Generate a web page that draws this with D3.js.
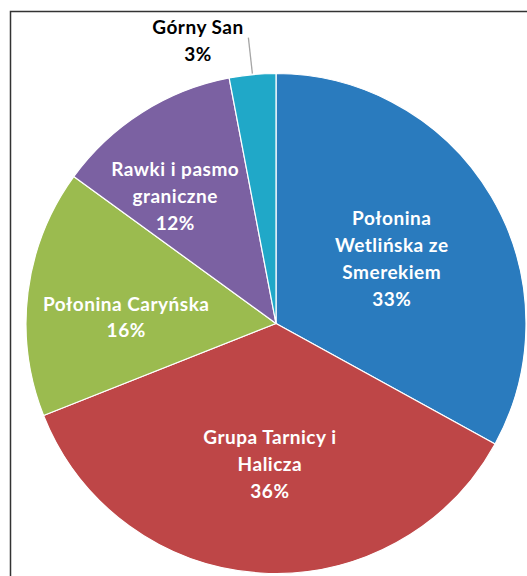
<!DOCTYPE html>
<html><head><meta charset="utf-8">
<script src="https://cdn.jsdelivr.net/npm/d3@7"></script>
<style>
html,body{margin:0;padding:0;background:#fff;}
svg{display:block;}
</style></head>
<body>
<script>
// ---- data ----
const categories = [
  ["Połonina", "Wetlińska ze", "Smerekiem"],
  ["Grupa Tarnicy i", "Halicza"],
  ["Połonina Caryńska"],
  ["Rawki i pasmo", "graniczne"],
  ["Górny San"]
];
const values = [33, 36, 16, 12, 3];
const percentLabels = ["33%", "36%", "16%", "12%", "3%"];
const colors = ["#2A7BBE", "#BE4647", "#9BBB4F", "#7B61A2", "#20A8C8"];

// ---- layout ----
const W = 527, H = 576;
const cx = 276, cy = 323.5, R = 250;
// label placement in polar terms (degrees clockwise from top, radius in px)
const labelPolar = [
  {a: 60.5, r: 133, color: "#fff"},
  {a: 182.5, r: 140, color: "#fff"},
  {a: 272.7, r: 150, color: "#fff"},
  {a: 321.8, r: 163, color: "#fff"},
  {a: 345.5, r: 290, color: "#000", outside: true}
];
const lineH = 26.7;

const svg = d3.select("body").append("svg").attr("width", W).attr("height", H);

// frame
svg.append("path")
  .attr("d", `M10.5,${H} L10.5,11.5 L${W},11.5`)
  .attr("fill", "none").attr("stroke", "#333").attr("stroke-width", 1.5);

const pie = d3.pie().sort(null).value(d => d);
const arcs = pie(values);
const arc = d3.arc().innerRadius(0).outerRadius(R);

const g = svg.append("g").attr("transform", `translate(${cx},${cy})`);
g.selectAll("path.slice").data(arcs).enter().append("path")
  .attr("class", "slice")
  .attr("d", arc)
  .attr("fill", (d, i) => colors[i])
  .attr("stroke", "#fff").attr("stroke-width", 1.2).attr("stroke-linejoin", "round");

// leader line for small slice
{
  const d = arcs[4];
  const mid = (d.startAngle + d.endAngle) / 2;
  const p1 = [Math.sin(mid) * (R + 1), -Math.cos(mid) * (R + 1)];
  const p0 = [p1[0] - 4, p1[1] - 36];
  g.append("line").attr("x1", p0[0]).attr("y1", p0[1]).attr("x2", p1[0]).attr("y2", p1[1])
    .attr("stroke", "#A6A6A6").attr("stroke-width", 1.3);
}

// labels
arcs.forEach((d, i) => {
  const lp = labelPolar[i];
  const ang = lp.a * Math.PI / 180;
  let x = Math.sin(ang) * lp.r, y = -Math.cos(ang) * lp.r;
  if (lp.outside) { x = 198 - cx; y = 40 - cy; }
  const lines = categories[i].concat([percentLabels[i]]);
  const n = lines.length;
  const t = g.append("text")
    .attr("text-anchor", "middle")
    .attr("font-family", "Lato, 'Open Sans', sans-serif")
    .attr("font-weight", "bold")
    .attr("font-size", 19)
    .attr("letter-spacing", 0.5)
    .attr("fill", lp.color);
  lines.forEach((s, k) => {
    t.append("tspan").attr("x", x)
      .attr("y", y + (k - (n - 1) / 2) * lineH)
      .attr("dominant-baseline", "central")
      .text(s);
  });
});
</script>
</body></html>
